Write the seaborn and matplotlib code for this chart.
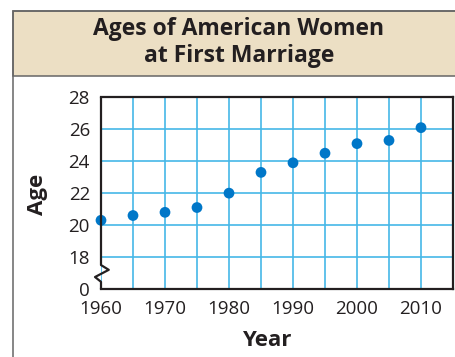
import matplotlib
matplotlib.use("Agg")
import matplotlib.pyplot as plt
from matplotlib.patches import Rectangle
from matplotlib.lines import Line2D
import seaborn as sns
import pandas as pd

# Median age of American women at first marriage
years = [1960, 1965, 1970, 1975, 1980, 1985, 1990, 1995, 2000, 2005, 2010]
ages = [20.3, 20.6, 20.8, 21.1, 22.0, 23.3, 23.9, 24.5, 25.1, 25.3, 26.1]
ytick_values = [16, 18, 20, 22, 24, 26, 28]
ytick_labels = ["0", "18", "20", "22", "24", "26", "28"]
xtick_values = [1960, 1970, 1980, 1990, 2000, 2010]
xtick_labels = ["1960", "1970", "1980", "1990", "2000", "2010"]

title = "Ages of American Women\nat First Marriage"

sns.set_theme(style="white")
plt.rcParams["font.family"] = ["Open Sans", "DejaVu Sans"]

TEXT = "#231f20"
GRID = "#45b8e8"
DOT = "#0077c8"
W, H = 456, 357

fig = plt.figure(figsize=(W / 100, H / 100), dpi=100)
fig.patch.set_facecolor("white")


def fx(px):
    return px / W


def fy(py):
    return 1 - py / H


# Outer frame with a beige title band
band = Rectangle((fx(13), fy(76)), fx(470) - fx(13), fy(11) - fy(76),
                 transform=fig.transFigure, facecolor="#ecdfc4",
                 edgecolor="#666666", linewidth=1.1, zorder=0)
fig.patches.append(band)
frame = Rectangle((fx(13), fy(400)), fx(470) - fx(13), fy(11) - fy(400),
                  transform=fig.transFigure, facecolor="none",
                  edgecolor="#666666", linewidth=1.1, zorder=0)
fig.patches.append(frame)

fig.text(fx(239), fy(42.5), title, ha="center", va="center", fontsize=16.5,
         fontweight="bold", color=TEXT, linespacing=1.15)

ax = fig.add_axes([fx(101), fy(289), fx(453) - fx(101), fy(97.3) - fy(289)])
df = pd.DataFrame({"Year": years, "Age": ages})
sns.scatterplot(data=df, x="Year", y="Age", ax=ax, color=DOT, s=60,
                edgecolor="none", zorder=5, clip_on=False)

ax.set_xlim(1960, 2015)
ax.set_ylim(16, 28)
ax.set_xticks(xtick_values)
ax.set_xticklabels(xtick_labels)
ax.set_xticks([1965, 1975, 1985, 1995, 2005], minor=True)
ax.set_yticks(ytick_values)
ax.set_yticklabels(ytick_labels)
ax.tick_params(axis="both", which="both", length=0, labelsize=13.5,
               labelcolor=TEXT)
ax.tick_params(axis="y", pad=8)
ax.tick_params(axis="x", pad=8)

ax.grid(True, which="both", color=GRID, linewidth=1.2)
ax.set_axisbelow(True)

ax.set_xlabel("")
ax.set_ylabel("")

for side in ["top", "right", "bottom"]:
    ax.spines[side].set_color("#231f20")
    ax.spines[side].set_linewidth(1.6)
ax.spines["left"].set_visible(False)

# Left axis drawn with a zigzag break between 0 and 18
tr = ax.get_yaxis_transform()
zig_x = [0, 0, 0.022, -0.017, 0, 0]
zig_y = [28, 17.5, 17.2, 16.75, 16.45, 16]
ax.add_line(Line2D(zig_x, zig_y, transform=tr, color="#231f20",
                   linewidth=1.6, clip_on=False, zorder=6))

fig.text(fx(38), fy(194), "Age", rotation=90, ha="center", va="center",
         fontsize=16, fontweight="bold", color=TEXT)
fig.text(fx(267), fy(340), "Year", ha="center", va="center",
         fontsize=16, fontweight="bold", color=TEXT)

fig.savefig("out.png", dpi=100)
